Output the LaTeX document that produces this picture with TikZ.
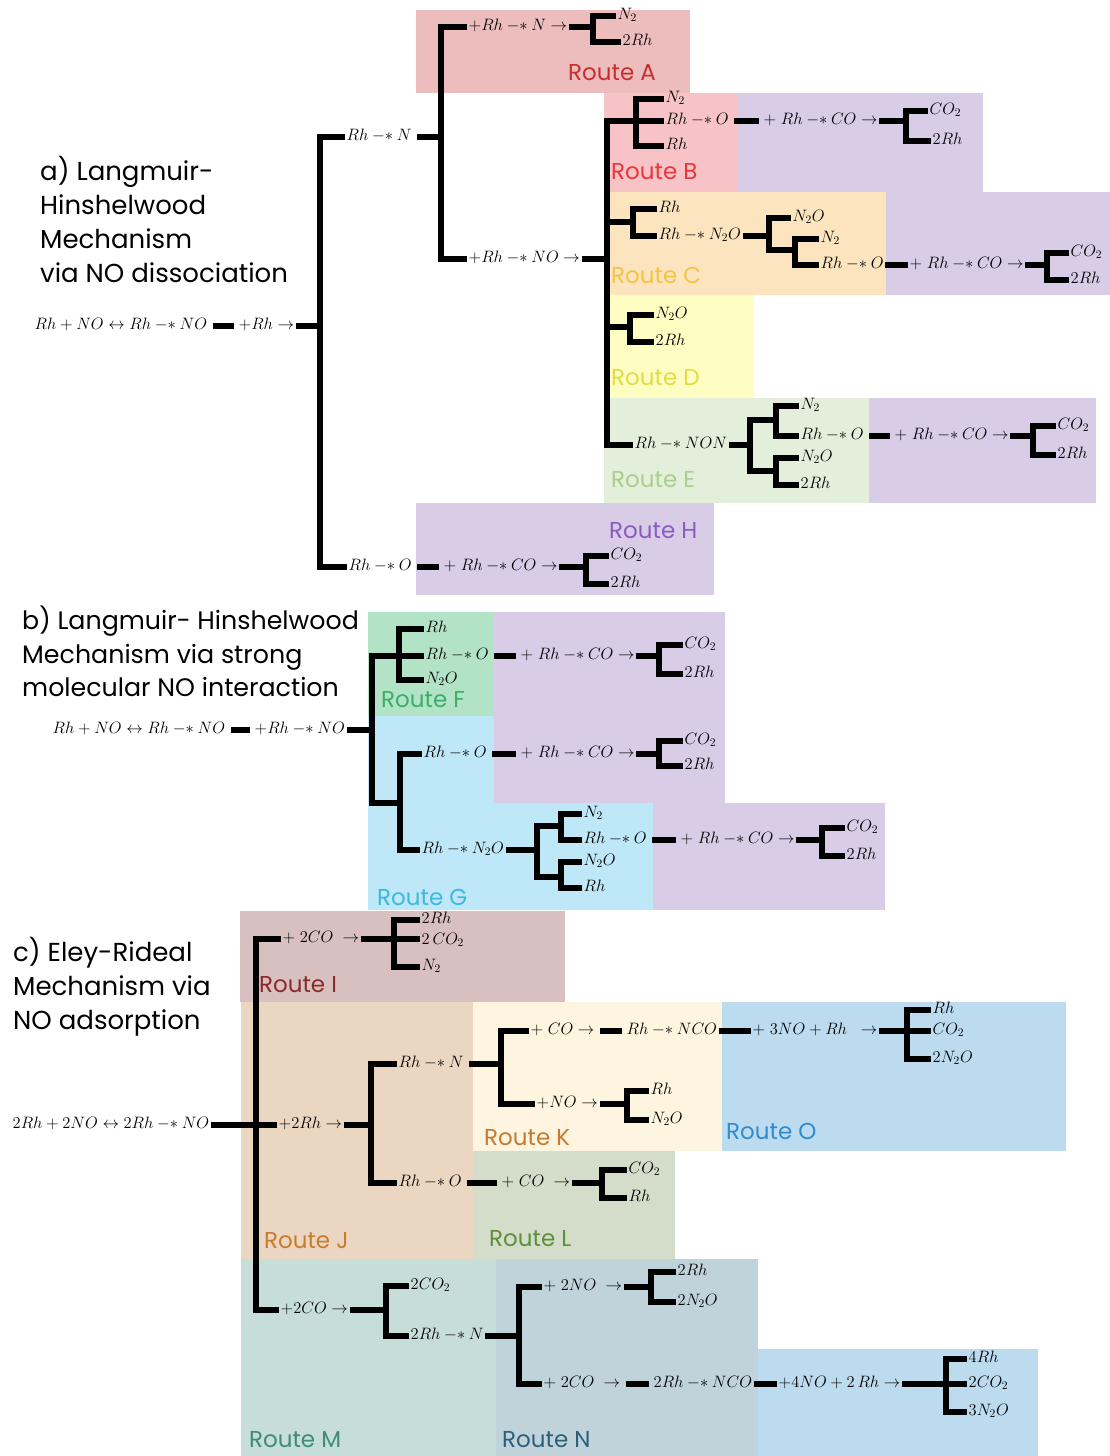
\RequirePackage{fix-cm}
\documentclass[tikz,border=0pt]{standalone}
\usepackage{fontspec}
\setmainfont{Poppins}
\newcommand\adsb{\mathbin{-{*}}}
\definecolor{cA}{HTML}{EDBCBC}
\definecolor{cB}{HTML}{F8C3C6}
\definecolor{pu}{HTML}{D8CCE6}
\definecolor{cC}{HTML}{FCE5BE}
\definecolor{cD}{HTML}{FFFEC2}
\definecolor{cE}{HTML}{E3EFDA}
\definecolor{cF}{HTML}{B3E3C6}
\definecolor{cG}{HTML}{BEE7F7}
\definecolor{cI}{HTML}{D9C0C0}
\definecolor{cJ}{HTML}{EBD6C2}
\definecolor{cK}{HTML}{FDF5E0}
\definecolor{cO}{HTML}{BDDBEF}
\definecolor{cL}{HTML}{D3DDC9}
\definecolor{cM}{HTML}{C7DED8}
\definecolor{cN}{HTML}{C0D3DB}
\definecolor{tA}{HTML}{C62F2E}
\definecolor{tB}{HTML}{E8363D}
\definecolor{tC}{HTML}{F5C342}
\definecolor{tD}{HTML}{E3DB44}
\definecolor{tE}{HTML}{A8D08D}
\definecolor{tH}{HTML}{8A5CC0}
\definecolor{tF}{HTML}{3BAF6A}
\definecolor{tG}{HTML}{3DB8DE}
\definecolor{tI}{HTML}{8B2A2A}
\definecolor{tJ}{HTML}{C97B2F}
\definecolor{tK}{HTML}{C8792E}
\definecolor{tO}{HTML}{2E8BD0}
\definecolor{tL}{HTML}{5F8E3C}
\definecolor{tM}{HTML}{3E8C78}
\definecolor{tN}{HTML}{2E5F78}
\tikzset{
  lab/.style={anchor=west, inner sep=1.5pt, text height=11pt, text depth=4pt, font=\fontsize{16.5}{18}\selectfont},
  ttl/.style={anchor=north west, inner sep=0pt, align=left, font=\fontsize{26}{34}\selectfont},
  rt/.style={anchor=west, inner sep=0pt, font=\fontsize{23}{26}\selectfont},
  bar/.style={line width=6.5pt, line cap=butt, line join=miter},
  ibar/.style={bar, shorten <=4pt, shorten >=3pt},
}
\begin{document}
\begin{tikzpicture}[x=1pt,y=-1pt]
\useasboundingbox (0,0) rectangle (1110,1456);
\fill[white] (0,0) rectangle (1110,1456);
% ---------- boxes
\fill[cA] (416,10) rectangle (690,93);
\fill[cB] (604,93) rectangle (737,192);
\fill[pu] (737,93) rectangle (983,192);
\fill[cC] (604,192) rectangle (886,295);
\fill[pu] (886,192) rectangle (1110,295);
\fill[cD] (604,295) rectangle (754,398);
\fill[cE] (604,398) rectangle (869,503);
\fill[pu] (869,398) rectangle (1096,503);
\fill[pu] (416,503) rectangle (714,595);
\fill[cF] (368,612) rectangle (494,716);
\fill[cG] (368,716) rectangle (653,910);
\fill[pu] (494,612) rectangle (725,803);
\fill[pu] (653,803) rectangle (885,910);
\fill[cI] (240,911) rectangle (565,1002);
\fill[cJ] (241,1002) rectangle (473,1259);
\fill[cK] (473,1002) rectangle (722,1151);
\fill[cO] (722,1002) rectangle (1066,1151);
\fill[cL] (473,1151) rectangle (675,1259);
\fill[cM] (241,1259) rectangle (496,1456);
\fill[cN] (496,1259) rectangle (758,1456);
\fill[cO] (758,1349) rectangle (1038,1456);
% ---------- titles
\node[ttl] (ta) at (40,156.5) {a) Langmuir-\\Hinshelwood\\Mechanism\\via NO dissociation};
\node[ttl, font=\fontsize{25.3}{33.5}\selectfont] (tb) at (22,606) {b) Langmuir- Hinshelwood\\Mechanism via strong\\molecular NO interaction};
\node[ttl] (tc) at (13,937.5) {c) Eley-Rideal\\Mechanism via\\NO adsorption};
% ---------- route labels
\node[rt, text=tA] (rA) at (568,73) {Route A};
\node[rt, text=tB] (rB) at (611,172) {Route B};
\node[rt, text=tC] (rC) at (611,275) {Route C};
\node[rt, text=tD] (rD) at (611,378) {Route D};
\node[rt, text=tE] (rE) at (611,480) {Route E};
\node[rt, text=tH] (rH) at (609,531) {Route H};
\node[rt, text=tF] (rF) at (381,700) {Route F};
\node[rt, text=tG] (rG) at (377,897) {Route G};
\node[rt, text=tI] (rI) at (259,985) {Route I};
\node[rt, text=tJ] (rJ) at (264,1241) {Route J};
\node[rt, text=tK] (rK) at (484,1138) {Route K};
\node[rt, text=tO] (rO) at (726,1131) {Route O};
\node[rt, text=tL] (rL) at (489,1239) {Route L};
\node[rt, text=tM] (rM) at (249,1440) {Route M};
\node[rt, text=tN] (rN) at (502,1440) {Route N};
% ---------- section a
\node[lab] (a0) at (33,326) {$Rh+NO\leftrightarrow Rh\adsb NO$};
\node[lab] (a1) at (237,326) {$+Rh\rightarrow$};
\coordinate (J1) at (320,326);
\node[lab] (a2) at (345,137) {$Rh\adsb N$};
\node[lab] (a3) at (347,567) {$Rh\adsb O$};
\coordinate (J2) at (441,137);
\node[lab] (a4) at (467,27) {$+Rh\adsb N\rightarrow$};
\node[lab] (a5) at (467,259) {$+Rh\adsb NO\rightarrow$};
\coordinate (JA) at (593,27);
\node[lab] (aA1) at (616,16) {$N_2$};
\node[lab] (aA2) at (621,42) {$2Rh$};
\coordinate (J3) at (607,259);
\coordinate (JB) at (636,121);
\node[lab] (b1) at (664,99) {$N_2$};
\node[lab] (b2) at (664,121) {$Rh\adsb O$};
\node[lab] (b3) at (664,146) {$Rh$};
\node[lab] (b4) at (762,121) {$+\;Rh\adsb CO\rightarrow$};
\coordinate (JB2) at (906,121);
\node[lab] (b5) at (928,111) {$CO_2$};
\node[lab] (b6) at (931,141) {$2Rh$};
\coordinate (JC) at (633,222);
\node[lab] (c1) at (657,209) {$Rh$};
\node[lab] (c2) at (657,236) {$Rh\adsb N_2O$};
\coordinate (JC2) at (769,236);
\node[lab] (c3) at (791,218) {$N_2O$};
\coordinate (JC3) at (795,250);
\node[lab] (c4) at (819,239) {$N_2$};
\node[lab] (c5) at (819,265) {$Rh\adsb O$};
\node[lab] (c6) at (908,265) {$+\;Rh\adsb CO\rightarrow$};
\coordinate (JC4) at (1047,265);
\node[lab] (c7) at (1069,253) {$CO_2$};
\node[lab] (c8) at (1069,280) {$2Rh$};
\coordinate (JD) at (630,327);
\node[lab] (d1) at (654,315) {$N_2O$};
\node[lab] (d2) at (654,342) {$2Rh$};
\node[lab] (e0) at (633,445) {$Rh\adsb NON$};
\coordinate (JE) at (750,445);
\coordinate (JE1) at (776,420);
\coordinate (JE2) at (776,471);
\node[lab] (e1) at (799,406) {$N_2$};
\node[lab] (e2) at (799,436) {$Rh\adsb O$};
\node[lab] (e3) at (799,458) {$N_2O$};
\node[lab] (e4) at (799,485) {$2Rh$};
\node[lab] (e5) at (893,436) {$+\;Rh\adsb CO\rightarrow$};
\coordinate (JE3) at (1033,436);
\node[lab] (e6) at (1056,426) {$CO_2$};
\node[lab] (e7) at (1056,455) {$2Rh$};
\node[lab] (h1) at (442,567) {$+\;Rh\adsb CO\rightarrow$};
\coordinate (JH) at (586,567);
\node[lab] (h2) at (609,556) {$CO_2$};
\node[lab] (h3) at (609,584) {$2Rh$};
% bars a
\draw[ibar] (a0.east) -- (a1.west);
\draw[bar] (a1.east) -- (J1);
\draw[bar] (a2.west) -| (J1) |- (a3.west);
\draw[bar, shorten <=4pt] (a2.east) -- (J2);
\draw[bar] (a4.west) -| (J2) |- (a5.west);
\draw[bar] (a4.east) -- (JA);
\draw[bar] (aA1.west) -| (JA) |- (aA2.west);
\draw[bar] (a5.east) -- (J3);
\draw[bar] (JB) -| (J3) |- (e0.west);
\draw[bar] (J3 |- JC) -- (JC);
\draw[bar] (J3 |- JD) -- (JD);
\draw[bar] (b1.west) -| (JB |- b3.west) -- (b3.west);
\draw[bar] (JB) -- (b2.west);
\draw[ibar] (b2.east) -- (b4.west);
\draw[bar] (b4.east) -- (JB2);
\draw[bar] (b5.west) -| (JB2) |- (b6.west);
\draw[bar] (c1.west) -| (JC) |- (c2.west);
\draw[bar] (c2.east) -- (JC2);
\draw[bar] (c3.west) -| (JC2) |- (JC3);
\draw[bar] (c4.west) -| (JC3) |- (c5.west);
\draw[bar] (c5.east) -- (c6.west);
\draw[bar] (c6.east) -- (JC4);
\draw[bar] (c7.west) -| (JC4) |- (c8.west);
\draw[bar] (d1.west) -| (JD) |- (d2.west);
\draw[bar] (e0.east) -- (JE);
\draw[bar] (JE1) -| (JE) |- (JE2);
\draw[bar] (e1.west) -| (JE1) |- (e2.west);
\draw[bar] (e3.west) -| (JE2) |- (e4.west);
\draw[ibar] (e2.east) -- (e5.west);
\draw[bar] (e5.east) -- (JE3);
\draw[bar] (e6.west) -| (JE3) |- (e7.west);
\draw[ibar] (a3.east) -- (h1.west);
\draw[bar] (h1.east) -- (JH);
\draw[bar] (h2.west) -| (JH) |- (h3.west);
% ---------- section b
\node[lab] (p0) at (51,730) {$Rh+NO\leftrightarrow Rh\adsb NO$};
\node[lab] (p1) at (253,730) {$+Rh\adsb NO$};
\coordinate (K1) at (372,730);
\coordinate (KF) at (399,656);
\node[lab] (f1) at (424,629) {$Rh$};
\node[lab] (f2) at (424,656) {$Rh\adsb O$};
\node[lab] (f3) at (424,680) {$N_2O$};
\node[lab] (f4) at (519,656) {$+\;Rh\adsb CO\rightarrow$};
\coordinate (KF2) at (659,656);
\node[lab] (f5) at (683,645) {$CO_2$};
\node[lab] (f6) at (683,674) {$2Rh$};
\coordinate (KG) at (400,803);
\node[lab] (g1) at (422,754) {$Rh\adsb O$};
\node[lab] (g2) at (420,850) {$Rh\adsb N_2O$};
\node[lab] (g3) at (519,754) {$+\;Rh\adsb CO\rightarrow$};
\coordinate (KG2) at (659,754);
\node[lab] (g4) at (683,741) {$CO_2$};
\node[lab] (g5) at (683,766) {$2Rh$};
\coordinate (KG3) at (537,850);
\coordinate (KG4) at (561,826);
\coordinate (KG5) at (561,877);
\node[lab] (g6) at (582,814) {$N_2$};
\node[lab] (g7) at (582,840) {$Rh\adsb O$};
\node[lab] (g8) at (582,862) {$N_2O$};
\node[lab] (g9) at (582,888) {$Rh$};
\node[lab] (g10) at (679,840) {$+\;Rh\adsb CO\rightarrow$};
\coordinate (KG6) at (822,840);
\node[lab] (g11) at (845,828) {$CO_2$};
\node[lab] (g12) at (845,856) {$2Rh$};
% bars b
\draw[ibar] (p0.east) -- (p1.west);
\draw[bar] (p1.east) -- (K1);
\draw[bar] (KF) -| (K1) |- (KG);
\draw[bar] (f1.west) -| (KF |- f3.west) -- (f3.west);
\draw[bar] (KF) -- (f2.west);
\draw[ibar] (f2.east) -- (f4.west);
\draw[bar] (f4.east) -- (KF2);
\draw[bar] (f5.west) -| (KF2) |- (f6.west);
\draw[bar] (g1.west) -| (KG) |- (g2.west);
\draw[ibar] (g1.east) -- (g3.west);
\draw[bar] (g3.east) -- (KG2);
\draw[bar] (g4.west) -| (KG2) |- (g5.west);
\draw[bar] (g2.east) -- (KG3);
\draw[bar] (KG4) -| (KG3) |- (KG5);
\draw[bar] (g6.west) -| (KG4) |- (g7.west);
\draw[bar] (g8.west) -| (KG5) |- (g9.west);
\draw[ibar] (g7.east) -- (g10.west);
\draw[bar] (g10.east) -- (KG6);
\draw[bar] (g11.west) -| (KG6) |- (g12.west);
% ---------- section c
\node[lab] (q0) at (11,1125) {$2Rh+2NO\leftrightarrow 2Rh\adsb NO$};
\node[lab] (q1) at (277,1125) {$+2Rh\rightarrow$};
\coordinate (L1) at (256,1125);
\node[lab] (i1) at (281,939) {$+\;2CO\;\rightarrow$};
\coordinate (LI) at (394,939);
\node[lab] (i2) at (420,920) {$2Rh$};
\node[lab] (i3) at (420,941) {$2\,CO_2$};
\node[lab] (i4) at (420,967) {$N_2$};
\node[lab] (m1) at (279,1310) {$+2CO\rightarrow$};
\coordinate (LJ) at (371,1125);
\node[lab] (j1) at (397,1064) {$Rh\adsb N$};
\node[lab] (j2) at (397,1183) {$Rh\adsb O$};
\coordinate (LK) at (501,1064);
\node[lab] (k1) at (529,1031) {$+\;CO\rightarrow$};
\node[lab] (k2) at (535,1104) {$+NO\rightarrow$};
\node[lab] (k3) at (625,1031) {$Rh\adsb NCO$};
\node[lab] (k4) at (751,1031) {$+\;3NO+Rh\;\;\rightarrow$};
\coordinate (LK2) at (907,1031);
\node[lab] (k5) at (931,1010) {$Rh$};
\node[lab] (k6) at (931,1031) {$CO_2$};
\node[lab] (k7) at (931,1059) {$2N_2O$};
\coordinate (LK3) at (627,1104);
\node[lab] (k8) at (649,1091) {$Rh$};
\node[lab] (k9) at (649,1120) {$N_2O$};
\node[lab] (l1) at (500,1183) {$+\;CO\;\rightarrow$};
\coordinate (LL) at (602,1183);
\node[lab] (l2) at (627,1170) {$CO_2$};
\node[lab] (l3) at (627,1198) {$Rh$};
\coordinate (LM) at (386,1310);
\node[lab] (m2) at (409,1286) {$2CO_2$};
\node[lab] (m3) at (409,1336) {$2Rh\adsb N$};
\coordinate (LN) at (519,1336);
\node[lab] (n1) at (542,1287) {$+\;2NO\;\rightarrow$};
\node[lab] (n2) at (542,1384) {$+\;2CO\;\rightarrow$};
\coordinate (LN2) at (651,1287);
\node[lab] (n3) at (676,1272) {$2Rh$};
\node[lab] (n4) at (676,1302) {$2N_2O$};
\node[lab] (n5) at (652,1384) {$2Rh\adsb NCO$};
\node[lab] (n6) at (777,1384) {$+4NO+2\,Rh\rightarrow$};
\coordinate (LN3) at (946,1384);
\node[lab] (n7) at (967,1359) {$4Rh$};
\node[lab] (n8) at (967,1384) {$2CO_2$};
\node[lab] (n9) at (967,1412) {$3N_2O$};
% bars c
\draw[bar] (q0.east) -- (q1.west);
\draw[bar] (i1.west) -| (L1) |- (m1.west);
\draw[bar] (q1.east) -- (LJ);
\draw[bar] (j1.west) -| (LJ) |- (j2.west);
\draw[bar] (i1.east) -- (LI);
\draw[bar] (i2.west) -| (LI |- i4.west) -- (i4.west);
\draw[bar] (LI) -- (LI -| i3.west);
\draw[bar, shorten <=4pt] (j1.east) -- (LK);
\draw[bar] (k1.west) -| (LK) |- (k2.west);
\draw[ibar] (k1.east) -- (k3.west);
\draw[bar] (k3.east) -- (k4.west);
\draw[bar] (k4.east) -- (LK2);
\draw[bar] (k5.west) -| (LK2 |- k7.west) -- (k7.west);
\draw[bar] (LK2) -- (k6.west);
\draw[bar] (k2.east) -- (LK3);
\draw[bar] (k8.west) -| (LK3) |- (k9.west);
\draw[ibar] (j2.east) -- (l1.west);
\draw[bar] (l1.east) -- (LL);
\draw[bar] (l2.west) -| (LL) |- (l3.west);
\draw[bar] (m1.east) -- (LM);
\draw[bar] (m2.west) -| (LM) |- (m3.west);
\draw[bar] (m3.east) -- (LN);
\draw[bar] (n1.west) -| (LN) |- (n2.west);
\draw[bar] (n1.east) -- (LN2);
\draw[bar] (n3.west) -| (LN2) |- (n4.west);
\draw[ibar] (n2.east) -- (n5.west);
\draw[bar] (n5.east) -- (n6.west);
\draw[bar] (n6.east) -- (LN3);
\draw[bar] (n7.west) -| (LN3 |- n9.west) -- (n9.west);
\draw[bar] (LN3) -- (n8.west);
\end{tikzpicture}
\end{document}
